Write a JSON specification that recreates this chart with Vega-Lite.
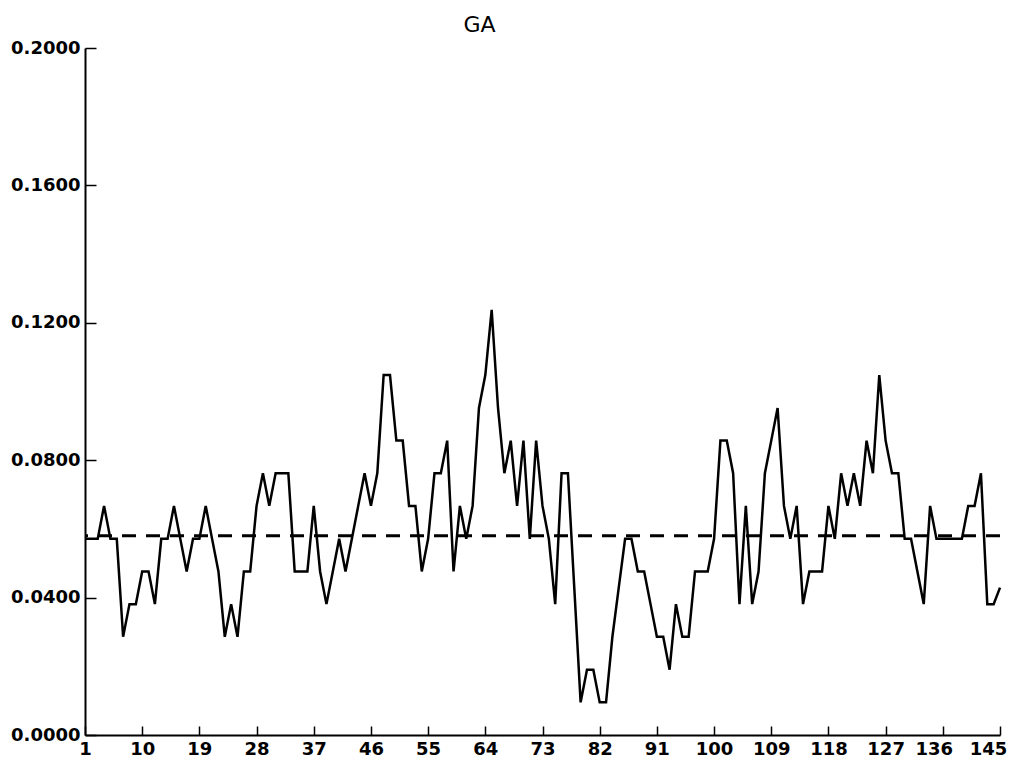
{
  "$schema": "https://vega.github.io/schema/vega-lite/v6.json",
  "autosize": {"type": "none"},
  "width": 915,
  "height": 687,
  "padding": {"left": 85, "top": 48, "right": 22, "bottom": 37},
  "background": "white",
  "config": {
    "view": {"stroke": null},
    "font": "DejaVu Sans",
    "axis": {
      "domainColor": "black",
      "domainWidth": 2,
      "tickColor": "black",
      "tickWidth": 1.5,
      "grid": false,
      "labelColor": "black",
      "labelFont": "DejaVu Sans",
      "labelFontWeight": "bold",
      "labelFontSize": 18,
      "labelOverlap": false,
      "labelFlush": false,
      "title": null
    }
  },
  "title": {
    "text": "GA",
    "font": "DejaVu Sans",
    "fontSize": 22,
    "fontWeight": "normal",
    "color": "black",
    "anchor": "middle",
    "dx": -63,
    "offset": 2
  },
  "datasets": {
    "series": [
      {"t": 1, "v": 0.0571}, {"t": 2, "v": 0.0571}, {"t": 3, "v": 0.0571}, {"t": 4, "v": 0.0667},
      {"t": 5, "v": 0.0571}, {"t": 6, "v": 0.0571}, {"t": 7, "v": 0.0286}, {"t": 8, "v": 0.0381},
      {"t": 9, "v": 0.0381}, {"t": 10, "v": 0.0476}, {"t": 11, "v": 0.0476}, {"t": 12, "v": 0.0381},
      {"t": 13, "v": 0.0571}, {"t": 14, "v": 0.0571}, {"t": 15, "v": 0.0667}, {"t": 16, "v": 0.0571},
      {"t": 17, "v": 0.0476}, {"t": 18, "v": 0.0571}, {"t": 19, "v": 0.0571}, {"t": 20, "v": 0.0667},
      {"t": 21, "v": 0.0571}, {"t": 22, "v": 0.0476}, {"t": 23, "v": 0.0286}, {"t": 24, "v": 0.0381},
      {"t": 25, "v": 0.0286}, {"t": 26, "v": 0.0476}, {"t": 27, "v": 0.0476}, {"t": 28, "v": 0.0667},
      {"t": 29, "v": 0.0762}, {"t": 30, "v": 0.0667}, {"t": 31, "v": 0.0762}, {"t": 32, "v": 0.0762},
      {"t": 33, "v": 0.0762}, {"t": 34, "v": 0.0476}, {"t": 35, "v": 0.0476}, {"t": 36, "v": 0.0476},
      {"t": 37, "v": 0.0667}, {"t": 38, "v": 0.0476}, {"t": 39, "v": 0.0381}, {"t": 40, "v": 0.0476},
      {"t": 41, "v": 0.0571}, {"t": 42, "v": 0.0476}, {"t": 43, "v": 0.0571}, {"t": 44, "v": 0.0667},
      {"t": 45, "v": 0.0762}, {"t": 46, "v": 0.0667}, {"t": 47, "v": 0.0762}, {"t": 48, "v": 0.1048},
      {"t": 49, "v": 0.1048}, {"t": 50, "v": 0.0857}, {"t": 51, "v": 0.0857}, {"t": 52, "v": 0.0667},
      {"t": 53, "v": 0.0667}, {"t": 54, "v": 0.0476}, {"t": 55, "v": 0.0571}, {"t": 56, "v": 0.0762},
      {"t": 57, "v": 0.0762}, {"t": 58, "v": 0.0857}, {"t": 59, "v": 0.0476}, {"t": 60, "v": 0.0667},
      {"t": 61, "v": 0.0571}, {"t": 62, "v": 0.0667}, {"t": 63, "v": 0.0952}, {"t": 64, "v": 0.1048},
      {"t": 65, "v": 0.1238}, {"t": 66, "v": 0.0952}, {"t": 67, "v": 0.0762}, {"t": 68, "v": 0.0857},
      {"t": 69, "v": 0.0667}, {"t": 70, "v": 0.0857}, {"t": 71, "v": 0.0571}, {"t": 72, "v": 0.0857},
      {"t": 73, "v": 0.0667}, {"t": 74, "v": 0.0571}, {"t": 75, "v": 0.0381}, {"t": 76, "v": 0.0762},
      {"t": 77, "v": 0.0762}, {"t": 78, "v": 0.0429}, {"t": 79, "v": 0.0095}, {"t": 80, "v": 0.019},
      {"t": 81, "v": 0.019}, {"t": 82, "v": 0.0095}, {"t": 83, "v": 0.0095}, {"t": 84, "v": 0.0286},
      {"t": 85, "v": 0.0429}, {"t": 86, "v": 0.0571}, {"t": 87, "v": 0.0571}, {"t": 88, "v": 0.0476},
      {"t": 89, "v": 0.0476}, {"t": 90, "v": 0.0381}, {"t": 91, "v": 0.0286}, {"t": 92, "v": 0.0286},
      {"t": 93, "v": 0.019}, {"t": 94, "v": 0.0381}, {"t": 95, "v": 0.0286}, {"t": 96, "v": 0.0286},
      {"t": 97, "v": 0.0476}, {"t": 98, "v": 0.0476}, {"t": 99, "v": 0.0476}, {"t": 100, "v": 0.0571},
      {"t": 101, "v": 0.0857}, {"t": 102, "v": 0.0857}, {"t": 103, "v": 0.0762}, {"t": 104, "v": 0.0381},
      {"t": 105, "v": 0.0667}, {"t": 106, "v": 0.0381}, {"t": 107, "v": 0.0476}, {"t": 108, "v": 0.0762},
      {"t": 109, "v": 0.0857}, {"t": 110, "v": 0.0952}, {"t": 111, "v": 0.0667}, {"t": 112, "v": 0.0571},
      {"t": 113, "v": 0.0667}, {"t": 114, "v": 0.0381}, {"t": 115, "v": 0.0476}, {"t": 116, "v": 0.0476},
      {"t": 117, "v": 0.0476}, {"t": 118, "v": 0.0667}, {"t": 119, "v": 0.0571}, {"t": 120, "v": 0.0762},
      {"t": 121, "v": 0.0667}, {"t": 122, "v": 0.0762}, {"t": 123, "v": 0.0667}, {"t": 124, "v": 0.0857},
      {"t": 125, "v": 0.0762}, {"t": 126, "v": 0.1048}, {"t": 127, "v": 0.0857}, {"t": 128, "v": 0.0762},
      {"t": 129, "v": 0.0762}, {"t": 130, "v": 0.0571}, {"t": 131, "v": 0.0571}, {"t": 132, "v": 0.0476},
      {"t": 133, "v": 0.0381}, {"t": 134, "v": 0.0667}, {"t": 135, "v": 0.0571}, {"t": 136, "v": 0.0571},
      {"t": 137, "v": 0.0571}, {"t": 138, "v": 0.0571}, {"t": 139, "v": 0.0571}, {"t": 140, "v": 0.0667},
      {"t": 141, "v": 0.0667}, {"t": 142, "v": 0.0762}, {"t": 143, "v": 0.0381}, {"t": 144, "v": 0.0381},
      {"t": 145, "v": 0.0429}
    ],
    "level": [{"mean": 0.058}]
  },
  "layer": [
    {
      "data": {"name": "level"},
      "mark": {"type": "rule", "color": "black", "strokeWidth": 3, "strokeDash": [14, 10]},
      "encoding": {
        "y": {"field": "mean", "type": "quantitative", "scale": {"domain": [0, 0.2]}}
      }
    },
    {
      "data": {"name": "series"},
      "mark": {"type": "line", "color": "black", "strokeWidth": 2.5, "strokeJoin": "miter"},
      "encoding": {
        "x": {
          "field": "t",
          "type": "quantitative",
          "scale": {"domain": [1, 145], "nice": false, "zero": false},
          "axis": {
            "values": [1, 10, 19, 28, 37, 46, 55, 64, 73, 82, 91, 100, 109, 118, 127, 136, 145],
            "format": "d",
            "tickSize": -9,
            "labelPadding": 14,
            "labelOffset": {
              "condition": [
                {"test": "datum.value == 145", "value": -12},
                {"test": "datum.value == 136", "value": -9}
              ],
              "value": 0
            }
          }
        },
        "y": {
          "field": "v",
          "type": "quantitative",
          "scale": {"domain": [0, 0.2], "nice": false},
          "axis": {
            "values": [0, 0.04, 0.08, 0.12, 0.16, 0.2],
            "format": ".4f",
            "tickSize": -11,
            "labelPadding": 16
          }
        }
      }
    }
  ]
}
